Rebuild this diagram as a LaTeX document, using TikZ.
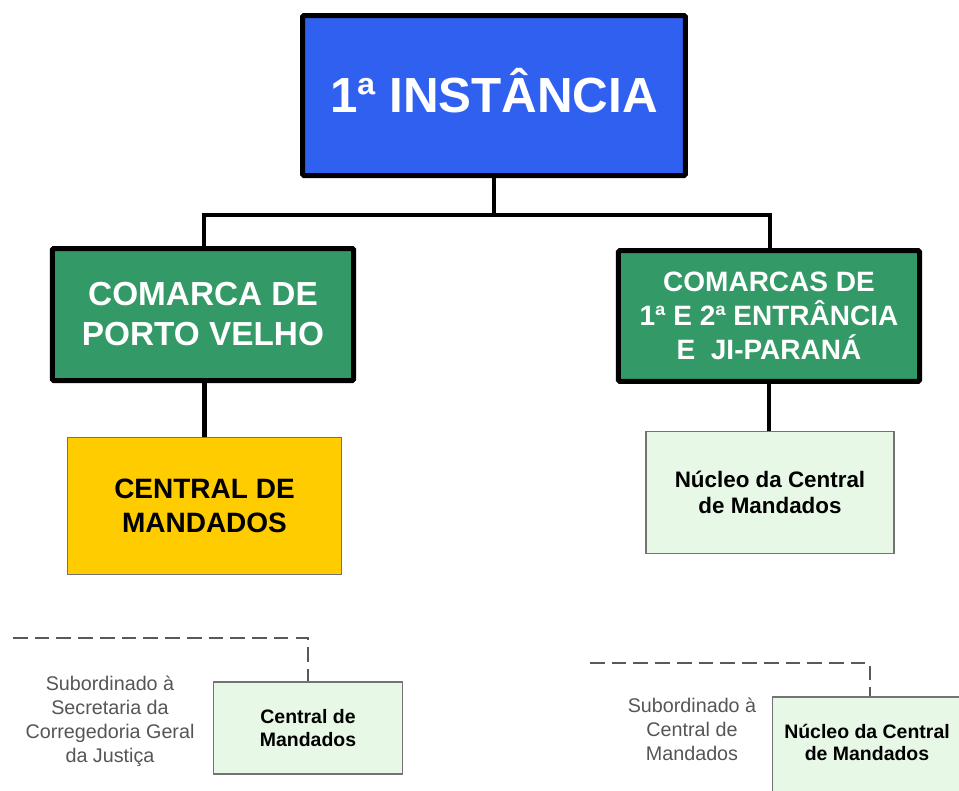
\documentclass[tikz,border=0pt]{standalone}
\usepackage{fontspec}
\setmainfont{Liberation Sans}
\definecolor{topblue}{HTML}{3060F0}
\definecolor{comgreen}{HTML}{339966}
\definecolor{cyellow}{HTML}{FFCC00}
\definecolor{lgreen}{HTML}{E8F8E6}
\definecolor{subgray}{HTML}{555555}
\begin{document}
\begin{tikzpicture}[x=0.75pt,y=-0.75pt,
  thickbox/.style={draw=black,line width=3.75pt,rounded corners=1pt,align=center,inner sep=0pt},
  thinbox/.style={draw=black!55,line width=0.9pt,align=center,inner sep=0pt},
  link/.style={line width=3.6pt,black},
  dlink/.style={line width=1.4pt,black!65,dash pattern=on 11pt off 5.3pt},
  note/.style={align=center,text=subgray,font=\fontsize{14.8}{18}\selectfont}
]
\useasboundingbox (0,0) rectangle (959,790);
\node[thickbox,fill=topblue,minimum width=287pt,minimum height=120pt,
  font=\fontsize{37}{44}\bfseries\selectfont,text=white] (inst) at (494,95.5) {\raisebox{7.5pt}{1ª INSTÂNCIA}};
\node[thickbox,fill=comgreen,minimum width=226pt,minimum height=99pt,
  font=\fontsize{25}{30}\bfseries\selectfont,text=white] (pv) at (203,314.5) {COMARCA DE\\PORTO VELHO};
\node[thickbox,fill=comgreen,minimum width=226pt,minimum height=98pt,
  font=\fontsize{21}{25.5}\bfseries\selectfont,text=white] (ji) at (769,316) {COMARCAS DE\\1ª E 2ª ENTRÂNCIA\\E\ \ JI-PARANÁ};
\node[thinbox,fill=cyellow,minimum width=206pt,minimum height=103pt,
  font=\fontsize{21}{25}\bfseries\selectfont] (cm) at (204.5,506) {CENTRAL DE\\MANDADOS};
\node[thinbox,fill=lgreen,minimum width=186pt,minimum height=91pt,
  font=\fontsize{16.8}{20}\bfseries\selectfont] (nc) at (770,492.5) {Núcleo da Central\\de Mandados};
\node[thinbox,fill=lgreen,minimum width=142pt,minimum height=69pt,
  font=\fontsize{14.6}{17}\bfseries\selectfont] (cm2) at (308,728) {Central de\\Mandados};
\node[thinbox,fill=lgreen,minimum width=142pt,minimum height=72pt,
  font=\fontsize{14.6}{17}\bfseries\selectfont] (nc2) at (867,745) {\raisebox{4pt}{\begin{tabular}{@{}c@{}}Núcleo da Central\\de Mandados\end{tabular}}};
\node[note] (n1) at (110,721) {Subordinado à\\Secretaria da\\Corregedoria Geral\\da Justiça};
\node[note] (n2) at (692,729) {Subordinado à\\Central de\\Mandados};
\coordinate (bus) at (494,215);
\coordinate (busl) at (204,215);
\coordinate (busr) at (770,215);
\draw[link] (inst.south) -- (bus);
\draw[link,line cap=rect] (busl) -- (busr);
\draw[link] (busl) -- (busl |- pv.north);
\draw[link] (busr) -- (busr |- ji.north);
\draw[link] (pv.south -| cm.north) -- (cm.north);
\draw[link] (ji.south) -- (ji.south |- nc.north);
\coordinate (d1) at (13,638);
\coordinate (d2) at (590,663);
\coordinate (d2c) at (870,663);
\draw[dlink] (d1) -- (cm2.north |- d1) -- (cm2.north);
\draw[dlink] (d2) -- (d2c) -- (d2c |- nc2.north);
\end{tikzpicture}
\end{document}
